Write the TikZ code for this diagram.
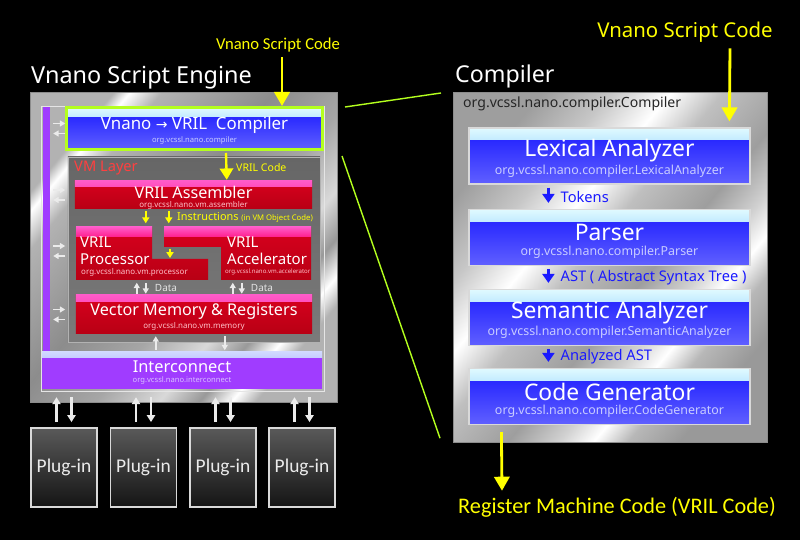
\documentclass[tikz,border=0pt]{standalone}
\usepackage{fontspec}
\setmainfont{Noto Sans}
\newfontfamily\calib{Carlito}
\newfontfamily\djv{DejaVu Sans}
\usetikzlibrary{calc,positioning,arrows.meta}

\definecolor{cblue}{HTML}{1A1AFF}
\definecolor{lblue}{HTML}{6060FF}
\definecolor{stripA}{HTML}{E0FAFF}
\definecolor{stripB}{HTML}{5AB4FF}
\definecolor{subblue}{HTML}{C8CCFF}
\definecolor{vmred}{HTML}{D8001E}
\definecolor{vmredlo}{HTML}{B80014}
\definecolor{magA}{HTML}{FF5AC8}
\definecolor{magB}{HTML}{FF1E8C}
\definecolor{subred}{HTML}{FFC0C8}
\definecolor{purp}{HTML}{A03CFF}
\definecolor{lavA}{HTML}{D0D8FF}
\definecolor{lavB}{HTML}{9090FF}
\definecolor{sublav}{HTML}{D8C0FF}
\definecolor{lime}{HTML}{B4FF1E}
\definecolor{ylw}{HTML}{FFFF00}
\definecolor{layred}{HTML}{FF4040}

% brushed metal for the two panels
\pgfdeclarehorizontalshading{metal}{100bp}{color(0bp)=(black!38); color(25bp)=(black!38);
  color(33bp)=(black!22); color(40bp)=(white); color(46bp)=(black!25); color(55bp)=(black!38);
  color(61bp)=(black!18); color(65bp)=(white); color(69bp)=(black!28); color(75bp)=(black!40);
  color(100bp)=(black!40)}
\pgfdeclarehorizontalshading{metalB}{100bp}{color(0bp)=(black!30); color(25bp)=(black!30);
  color(27bp)=(white); color(31bp)=(black!30); color(45bp)=(black!45); color(55bp)=(black!35);
  color(63bp)=(black!15); color(68bp)=(black!40); color(72bp)=(white); color(75bp)=(black!30);
  color(100bp)=(black!30)}

\begin{document}
\begin{tikzpicture}[x=0.03cm,y=-0.03cm,
  every node/.append style={inner sep=0pt},
  fs/.style 2 args={font=\fontsize{#1}{#2}\selectfont},
  tstrip/.style n args={3}{path picture={\shade[top color=#1,bottom color=#2]
      (path picture bounding box.north west) rectangle ([yshift=-#3]path picture bounding box.north east);}},
  cbox/.style={draw=black!15, line width=1pt, top color=cblue, bottom color=lblue,
      minimum width=8.43cm, minimum height=1.68cm, tstrip={stripA}{stripB}{0.36cm}},
  rbox/.style={top color=vmred, bottom color=vmredlo, tstrip={magA}{magB}{#1}},
  plugbox/.style={draw=white!85!black, line width=1.5pt, top color=black!65, bottom color=black!92,
      minimum width=1.98cm, minimum height=2.37cm,
      font=\calib\fontsize{16.6}{18}\selectfont, text=white!92!black},
  wharrow/.style={white!92!black, line width=1.3pt, -{Triangle[width=5pt,length=4.5pt]}},
  yarrow/.style={ylw, line width=2.4pt, -{Triangle[width=0.46cm,length=0.42cm]}},
  ysmall/.style={ylw, line width=1.8pt, -{Triangle[width=6pt,length=5pt]}},
  barrow/.style={cblue, line width=3pt, -{Triangle[width=0.36cm,length=0.27cm]}},
  ctitle/.style={white, fs={19.5}{21}},
  csub/.style={subblue, fs={10.6}{12}},
  wtitle/.style={white, fs={13.8}{15}},
  ]

  % background
  \fill[black] (0,0) rectangle (800,540);
  \useasboundingbox (0,0) rectangle (800,540);

  % ---- script engine (left) ----
  \node[anchor=west, white, fs={20}{22}] (engtitle) at (31,78) {Vnano Script Engine};
  \node[anchor=north west, draw=black!45, line width=1pt, shading=metalB, shading angle=-40,
        minimum width=9.21cm, minimum height=9.3cm] (engine) at (30,92) {};
  \draw[white!80!gray, line width=0.8pt] (41,106) rectangle (324,391);
  \node[fill=purp, minimum width=0.21cm, minimum height=7.35cm] (pbar) at (46.5,229.5) {};

  \node[fill=purp, minimum width=8.4cm, minimum height=1.11cm,
        tstrip={lavA}{lavB}{0.18cm}] (icon) at (182,370.5) {};
  \node[white, fs={14}{15}] (icon-t) at ($(icon.center)+(0,-4)$) {Interconnect};
  \node[sublav, fs={6.5}{8}] (icon-s) at ($(icon.center)+(0,10)$) {org.vcssl.nano.interconnect};

  % front-end compiler
  \node[cbox, draw=lime, line width=0.1cm, minimum width=7.67cm, minimum height=1.25cm,
        tstrip={stripA}{stripB}{0.26cm}] (vcomp) at (194.5,128.5) {};
  \node[white, fs={14.4}{16}] (vcomp-t) at ($(vcomp.center)+(0,-3)$) {Vnano {\djv\fontsize{12}{14}\selectfont →} VRIL\ \ Compiler};
  \node[subblue, fs={6.5}{8}] (vcomp-s) at ($(vcomp.center)+(0,12)$) {org.vcssl.nano.compiler};

  % VM layer
  \node[draw=black!30, line width=0.8pt, top color=black!60, bottom color=black!52,
        minimum width=7.56cm, minimum height=5.55cm] (vm) at (194,249.5) {};
  \node[anchor=west, layred, fs={12.5}{14}] (vm-t) at (74,168) {VM Layer};

  \node[rbox=0.18cm, minimum width=7.11cm, minimum height=0.84cm] (asm) at (193.5,195) {};
  \node[wtitle] (asm-t) at ($(asm.center)+(0,-3)$) {VRIL Assembler};
  \node[subred, fs={6.8}{8}] (asm-s) at ($(asm.center)+(0,10)$) {org.vcssl.nano.vm.assembler};

  % processor and accelerator share a stepped edge
  \shade[top color=vmred, bottom color=vmredlo] (76,227) -- (152,227) -- (152,259) -- (208,259) -- (208,280) -- (76,280) -- cycle;
  \shade[top color=magA, bottom color=magB] (76,227) rectangle (152,237);
  \shade[top color=vmred, bottom color=vmredlo] (164,227) -- (311,227) -- (311,280) -- (221,280) -- (221,247) -- (164,247) -- cycle;
  \shade[top color=magA, bottom color=magB] (164,227) rectangle (311,237);

  \node[anchor=west, white, align=left, fs={12.8}{14.5}] (proc) at (80,251) {VRIL\\Processor};
  \node[anchor=west, subred, fs={6.8}{8}] (proc-s) at (81,272) {org.vcssl.nano.vm.processor};
  \node[anchor=west, white, align=left, fs={12.8}{14.5}] (accel) at (227,251) {VRIL\\Accelerator};
  \node[anchor=west, subred, fs={5.2}{6}] (accel-s) at (225,272) {org.vcssl.nano.vm.accelerator};

  \node[rbox=0.21cm, minimum width=7.08cm, minimum height=1.17cm] (mem) at (194,314.5) {};
  \node[wtitle] (mem-t) at ($(mem.center)+(0,-3)$) {Vector Memory \& Registers};
  \node[subred, fs={6.8}{8}] (mem-s) at ($(mem.center)+(0,11.5)$) {org.vcssl.nano.vm.memory};

  % code flow inside the engine
  \node[ylw, font=\calib\fontsize{14.2}{16}\selectfont] (incode) at (278,45) {Vnano Script Code};
  \draw[yarrow] (incode.south -| 282,0) ++(0,5) -- (vcomp.north -| 282,0);
  \draw[yarrow, line width=2pt, -{Triangle[width=0.4cm,length=0.34cm]}] ($(vcomp.south west)+(161,2)$) -- ($(asm.north west)+(152,-1)$);
  \node[anchor=west, ylw, fs={9}{10}] (vril-l) at (236,168) {VRIL Code};
  \draw[ysmall] ($(asm.south west)+(71,1.5)$) -- ($(asm.south west)+(71,14)$);
  \draw[ysmall] ($(asm.south west)+(94,1.5)$) -- ($(asm.south west)+(94,14)$);
  \draw[ysmall] ($(accel.west)+(-57,-2)$) -- ($(accel.west)+(-57,7)$);
  \node[anchor=west, ylw, fs={9.3}{10}] (instr-l) at (177,217) {Instructions {\fontsize{6.6}{8}\selectfont (in VM Object Code)}};

  % data paths
  \foreach \dx in {61,157}
  {
    \draw[wharrow] ($(mem.north west)+(\dx,-1)$) -- ++(0,-11);
    \draw[wharrow] ($(mem.north west)+(\dx+9,-12)$) -- ++(0,11);
    \node[anchor=west, white!80!gray, fs={8.5}{10}] at ($(mem.north west)+(\dx+18,-6.5)$) {Data};
  }
  \draw[wharrow] ($(mem.south west)+(80,16)$) -- ($(mem.south west)+(80,2)$);
  \draw[wharrow] ($(mem.south west)+(149,2)$) -- ($(mem.south west)+(149,16)$);

  % links to the purple bus
  \foreach \b in {vcomp,asm,proc,mem}
  {
    \draw[wharrow] ($(pbar.east |- \b.west)+(3,-5)$) -- ++(12,0);
    \draw[wharrow] ($(pbar.east |- \b.west)+(15,5)$) -- ++(-12,0);
  }

  % plug-ins
  \foreach \i/\x in {1/64,2/143.5,3/223,4/302}
  {
    \node[plugbox] (plug\i) at (\x,467.5) {Plug-in};
    \draw[wharrow, line width=2pt, -{Triangle[width=7pt,length=6pt]}] ($(plug\i.north)+(-7.5,-5)$) -- ($(plug\i.north |- engine.south)+(-7.5,-6)$);
    \draw[wharrow, line width=2pt, -{Triangle[width=7pt,length=6pt]}] ($(plug\i.north |- engine.south)+(7.5,-6)$) -- ($(plug\i.north)+(7.5,-5)$);
  }

  % ---- compiler (right) ----
  \node[anchor=west, white, fs={19.8}{22}] (comptitle) at (455,76) {Compiler};
  \node[anchor=north west, draw=black!45, line width=1pt, shading=metal, shading angle=-40,
        minimum width=9.42cm, minimum height=10.5cm] (cpanel) at (453,92) {};
  \node[anchor=west, black!85, fs={12}{14}] (cpanel-t) at (463,104) {org.vcssl.nano.compiler.Compiler};

  \foreach \n/\y/\t/\s in {lex/156/Lexical Analyzer/LexicalAnalyzer,parse/237.5/Parser/Parser,%
      sem/317.5/Semantic Analyzer/SemanticAnalyzer,gen/396.5/Code Generator/CodeGenerator}
  {
    \node[cbox] (\n) at (609.5,\y) {};
    \node[ctitle] (\n-t) at ($(\n.center)+(0,-5)$) {\t};
    \node[csub] (\n-s) at ($(\n.center)+(0,15)$) {org.vcssl.nano.compiler.\s};
  }
  \foreach \a/\b/\l in {lex/parse/Tokens,parse/sem/AST ( Abstract Syntax Tree ),sem/gen/Analyzed AST}
  {
    \draw[barrow] ($(\a.south west)+(80,3)$) -- ($(\b.north west)+(80,-6)$);
    \node[anchor=west, cblue, fs={12.5}{14}] at ($(\a.south west)!0.5!(\b.north west)+(92,0)$) {\l};
  }

  \node[ylw, fs={17.4}{19}] (incode2) at (685,32) {Vnano Script Code};
  \draw[yarrow] ($(incode2.south)+(45,6)$) -- ($(lex.north west)+(261,-6)$);

  \node[anchor=west, ylw, font=\calib\fontsize{19}{21}\selectfont] (outcode) at (458,507) {Register Machine Code (VRIL Code)};
  \draw[yarrow] ($(gen.south west)+(33,7)$) -- ($(outcode.north west)+(44,-6)$);

  % zoom lines
  \draw[lime, line width=1.2pt] ($(vcomp.north east)+(21,1)$) -- ($(cpanel.north west)+(-12,1)$);
  \draw[lime, line width=1.2pt] ($(vcomp.south east)+(18,5)$) -- ($(cpanel.south west)+(-13,-5)$);

\end{tikzpicture}
\end{document}
